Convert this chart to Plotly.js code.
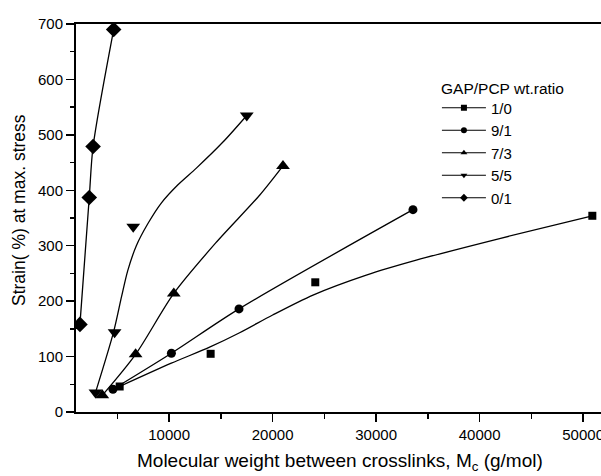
<!DOCTYPE html>
<html><head><meta charset="utf-8">
<script src="https://cdn.plot.ly/plotly-3.0.1.min.js"></script>
<style>html,body{margin:0;padding:0;background:#fff;overflow:hidden}#chart{width:640px;height:476px}</style>
</head><body><div id="chart"></div><script>
// Texts
const xTitle = 'Molecular weight between crosslinks, M<sub>c</sub> (g/mol)';
const yTitle = 'Strain( %) at max. stress';
const legendTitle = 'GAP/PCP wt.ratio';
// Legend labels (GAP/PCP weight ratio)
const ratios = ['1/0', '9/1', '7/3', '5/5', '0/1'];
const symbols = ['square', 'circle', 'triangle-up', 'triangle-down', 'diamond'];

// Measured points: Mc (g/mol) vs strain (%) at max. stress
const mc_10 = [5220, 14010, 24120, 50890];
const strain_10 = [46, 105, 234, 354];
const mc_91 = [4570, 10220, 16750, 33560];
const strain_91 = [41, 106, 186, 365];
const mc_73 = [3540, 6760, 10450, 21000];
const strain_73 = [30, 104, 214, 444];
const mc_55 = [2880, 4730, 6530, 17500];
const strain_55 = [35, 144, 334, 535];
const mc_01 = [1380, 2280, 2650, 4640];
const strain_01 = [158, 387, 479, 690];

// Smoothed curves
const curveX_10 = [5220, 10210, 13910, 16810, 20000, 23900, 29050, 33880, 41930, 50890];
const curveY_10 = [46, 88, 117, 143, 175, 211, 247, 274, 313, 354];
const curveX_91 = [4570, 10220, 16750, 33560];
const curveY_91 = [41, 106, 186, 365];
const curveX_73 = [3540, 6760, 10450, 14500, 18740, 21000];
const curveY_73 = [30, 104, 214, 305, 391, 444];
const curveX_55 = [2880, 4640, 5400, 6000, 6830, 7950, 9240, 10850, 12630, 15200, 17500];
const curveY_55 = [35, 145, 208, 255, 300, 340, 377, 410, 440, 487, 535];
const curveX_01 = [1380, 2280, 2650, 4640];
const curveY_01 = [158, 387, 479, 690];

const markerSizes = [8, 9, 12, 12, 12];
const FONT = 'Liberation Sans, Arial, sans-serif';

const pts = [[mc_10, strain_10], [mc_91, strain_91], [mc_73, strain_73], [mc_55, strain_55], [mc_01, strain_01]];
const curves = [[curveX_10, curveY_10], [curveX_91, curveY_91], [curveX_73, curveY_73], [curveX_55, curveY_55], [curveX_01, curveY_01]];

const traces = [];
curves.forEach((c, i) => {
  traces.push({x: c[0], y: c[1], mode: 'lines', type: 'scatter', showlegend: false,
    hoverinfo: 'skip', line: {color: '#000', width: 1.3, shape: 'spline', smoothing: 0.8}});
});
pts.forEach((p, i) => {
  traces.push({x: p[0], y: p[1], mode: 'markers', type: 'scatter', showlegend: false,
    marker: {symbol: symbols[i], size: markerSizes[i], color: '#000'}});
});
ratios.forEach((r, i) => {
  traces.push({x: [null], y: [null], mode: 'lines+markers', type: 'scatter', name: r,
    line: {color: '#000', width: 1}, marker: {symbol: symbols[i], size: 6, color: '#000'}});
});

// The original figure is cropped on the right: the plot is drawn wider than the
// 601 px window so the frame and the "50000" label run off the edge.
const plotW = 640, marginL = 76, marginR = 10;
const layout = {
  width: plotW, height: 476,
  margin: {l: marginL, r: marginR, t: 24, b: 64},
  paper_bgcolor: '#fff', plot_bgcolor: '#fff',
  font: {family: FONT, color: '#000', size: 15},
  showlegend: true,
  legend: {x: 0.6515, y: 0.826, xanchor: 'left', yanchor: 'top', bgcolor: 'rgba(0,0,0,0)',
    borderwidth: 0, font: {size: 15, family: FONT}, itemwidth: 44},
  annotations: [
    {text: legendTitle, xref: 'paper', yref: 'paper', x: 0.655, y: 0.834,
      xanchor: 'left', yanchor: 'middle', showarrow: false, font: {size: 15.5, family: FONT}},
    {text: xTitle, xref: 'paper', yref: 'paper', x: 0.4765, y: -0.129,
      xanchor: 'center', yanchor: 'middle', showarrow: false, font: {size: 19, family: FONT}},
    {text: yTitle, xref: 'paper', yref: 'paper', x: -0.1029, y: 0.5206, textangle: -90,
      xanchor: 'center', yanchor: 'middle', showarrow: false, font: {size: 17.5, family: FONT}}
  ],
  xaxis: {
    range: [1000, 54530], showline: true, linecolor: '#000', linewidth: 2, mirror: true,
    ticks: 'outside', ticklen: 8, tickwidth: 1.5, tickcolor: '#000', tick0: 0, dtick: 10000,
    tickformat: 'd',
    minor: {ticks: 'outside', ticklen: 5, tickwidth: 1.5, tickcolor: '#000', tick0: 0, dtick: 5000, showgrid: false},
    showgrid: false, zeroline: false, automargin: false,
    tickfont: {size: 15, family: FONT}
  },
  yaxis: {
    range: [0, 700], showline: true, linecolor: '#000', linewidth: 2,
    ticks: 'outside', ticklen: 8, tickwidth: 1.5, tickcolor: '#000', tick0: 0, dtick: 100,
    minor: {ticks: 'outside', ticklen: 4, tickwidth: 1.5, tickcolor: '#000', tick0: 0, dtick: 50, showgrid: false},
    showgrid: false, zeroline: false, automargin: false,
    tickfont: {size: 15, family: FONT}
  }
};

Plotly.newPlot('chart', traces, layout, {displayModeBar: false, staticPlot: true});
</script></body></html>
